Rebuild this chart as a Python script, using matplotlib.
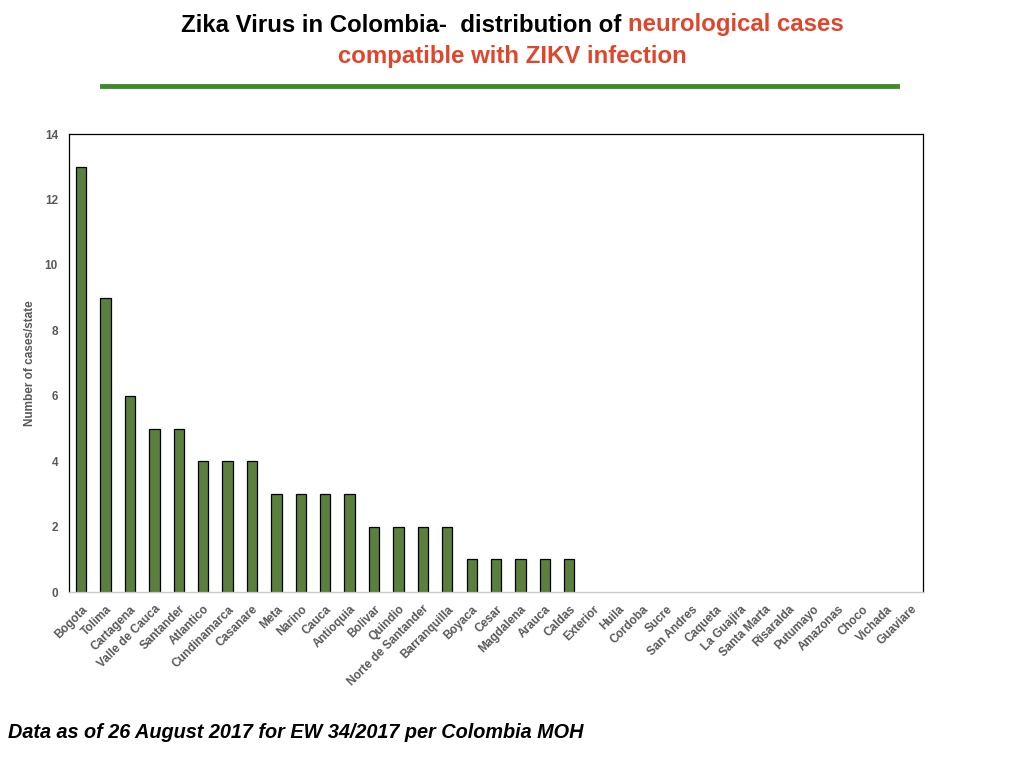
import matplotlib
matplotlib.use("Agg")
import matplotlib.pyplot as plt
import numpy as np

states = ["Bogota", "Tolima", "Cartagena", "Valle de Cauca", "Santander", "Atlantico",
          "Cundinamarca", "Casanare", "Meta", "Narino", "Cauca", "Antioquia", "Bolivar",
          "Quindio", "Norte de Santander", "Barranquilla", "Boyaca", "Cesar", "Magdalena",
          "Arauca", "Caldas", "Exterior", "Huila", "Cordoba", "Sucre", "San Andres",
          "Caqueta", "La Guajira", "Santa Marta", "Risaralda", "Putumayo", "Amazonas",
          "Choco", "Vichada", "Guaviare"]
cases = [13, 9, 6, 5, 5, 4, 4, 4, 3, 3, 3, 3, 2, 2, 2, 2, 1, 1, 1, 1, 1,
         0, 0, 0, 0, 0, 0, 0, 0, 0, 0, 0, 0, 0, 0]

plt.rcParams['font.family'] = ['Liberation Sans', 'DejaVu Sans']

fig = plt.figure(figsize=(10.24, 7.68), dpi=100)
ax = fig.add_axes([0.0674, 0.229, 0.8340, 0.5965])

x = np.arange(len(states))
vals = np.array(cases)
nz = vals > 0  # zero-case states get no bar outline
ax.bar(x[nz], vals[nz], width=0.42, color="#5b7f3c", edgecolor="black", linewidth=0.9)
ax.set_xlim(-0.5, len(states) - 0.5)
ax.set_ylim(0, 14)
ax.set_yticks(range(0, 15, 2))
ax.set_xticks(x)
ax.set_xticklabels(states, rotation=45, ha="right", rotation_mode="anchor",
                   fontsize=8.5, color="#595959", fontweight="bold")
for lab in ax.get_yticklabels():
    lab.set_fontsize(8.5)
    lab.set_color("#595959")
    lab.set_fontweight("bold")
ax.tick_params(length=0, pad=8)
ax.tick_params(axis="x", pad=8)
ax.set_ylabel("Number of cases/state", fontsize=8.5, color="#595959",
              fontweight="bold", labelpad=6)
for s in ["left", "top", "right"]:
    ax.spines[s].set_color("black")
    ax.spines[s].set_linewidth(0.9)
ax.spines["bottom"].set_color("#cccccc")
ax.spines["bottom"].set_linewidth(1.0)

# title, two colours on first line
red = "#e0462b"
part1 = "Zika Virus in Colombia-  distribution of "
part2 = "neurological cases"
tkw = dict(fontsize=17.3, fontweight="bold", va="center")
t1 = fig.text(0, 1 - 25 / 768, part1, color="black", **tkw)
t2 = fig.text(0, 1 - 25 / 768, part2, color=red, **tkw)
r = fig.canvas.get_renderer()
w1 = t1.get_window_extent(r).width
w2 = t2.get_window_extent(r).width
x0 = (1024 - (w1 + w2)) / 2
t1.set_x(x0 / 1024)
t2.set_x((x0 + w1) / 1024)
fig.text(0.5, 1 - 57 / 768, "compatible with ZIKV infection", color=red,
         ha="center", **tkw)

fig.add_artist(plt.Line2D([102 / 1024, 897 / 1024], [1 - 86 / 768, 1 - 86 / 768],
                          color="#3d8b2c", linewidth=3.5))

fig.text(8 / 1024, 1 - 733 / 768, "Data as of 26 August 2017 for EW 34/2017 per Colombia MOH",
         fontsize=14.35, fontweight="bold", fontstyle="italic", va="center")

fig.savefig("out.png", dpi=100)
